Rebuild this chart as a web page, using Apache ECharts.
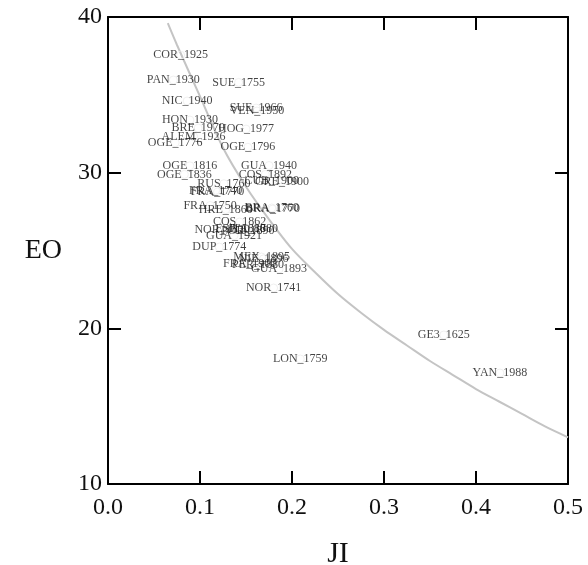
<!DOCTYPE html>
<html>
<head>
<meta charset="utf-8">
<script src="https://cdn.jsdelivr.net/npm/echarts@6/dist/echarts.min.js"></script>
<style>
  html, body { margin: 0; padding: 0; background: #fff; }
  #chart { width: 588px; height: 565px; }
</style>
</head>
<body>
<div id="chart"></div>
<script>
// labelled points (JI, EO)
const names = ['COR_1925', 'PAN_1930', 'SUE_1755', 'NIC_1940', 'SUE_1966', 'VEN_1950', 'HON_1930', 'BRE_1970',
  'HOG_1977', 'ALEM_1926', 'OGE_1776', 'OGE_1796', 'OGE_1816', 'GUA_1940', 'OGE_1836', 'COS_1892',
  'CUB_1900', 'GRE_1900', 'RUS_1760', 'FRA_1740', 'FRA_1770', 'FRA_1750', 'HRE_1860', 'BRA_1760',
  'BRA_1770', 'COS_1862', 'NOR_1830', 'ESP_1880', 'POR_1890', 'ITA_1880', 'GUA_1921', 'DUP_1774',
  'MEX_1895', 'NIE_1896', 'FRA_1900', 'PER_1880', 'GUA_1893', 'NOR_1741', 'LON_1759', 'GE3_1625', 'YAN_1988']
const jiValues = [0.079, 0.071, 0.142, 0.086, 0.161, 0.162, 0.089, 0.098,
  0.150, 0.093, 0.073, 0.152, 0.089, 0.175, 0.083, 0.171,
  0.178, 0.189, 0.126, 0.117, 0.119, 0.111, 0.128, 0.178,
  0.179, 0.143, 0.124, 0.144, 0.152, 0.158, 0.137, 0.121,
  0.167, 0.169, 0.154, 0.163, 0.186, 0.180, 0.209, 0.365, 0.426]
const eoValues = [37.55, 35.95, 35.80, 34.60, 34.15, 33.96, 33.38, 32.86,
  32.80, 32.32, 31.92, 31.63, 30.44, 30.46, 29.89, 29.89,
  29.46, 29.40, 29.29, 28.86, 28.76, 27.89, 27.63, 27.73,
  27.66, 26.83, 26.31, 26.38, 26.25, 26.38, 25.96, 25.22,
  24.58, 24.46, 24.13, 24.10, 23.81, 22.59, 18.03, 19.57, 17.13]

// fitted curve
const curveJI = [0.065, 0.075, 0.100, 0.125, 0.150, 0.175, 0.200, 0.225, 0.250, 0.275,
  0.300, 0.325, 0.350, 0.375, 0.400, 0.425, 0.450, 0.475, 0.500]
const curveEO = [39.6, 38.2, 34.9, 31.6, 29.1, 27.0, 25.1, 23.6, 22.2, 21.0,
  19.9, 18.9, 17.9, 17.0, 16.1, 15.3, 14.5, 13.7, 13.0]

const serif = '"Liberation Serif", "DejaVu Serif", serif'

let chart = echarts.init(document.getElementById('chart'))

const points = names.map((n, i) => ({ name: n, value: [jiValues[i], eoValues[i]] }))
const curve = curveJI.map((x, i) => [x, curveEO[i]])

const frameAxis = {
  axisLine: { show: true, onZero: false, lineStyle: { color: '#000', width: 2 } },
  axisTick: { show: true, inside: true, length: 13, lineStyle: { color: '#000', width: 2 } },
  splitLine: { show: false }
}

chart.setOption({
  backgroundColor: '#fff',
  animation: false,
  grid: { left: 108, right: 20, top: 17, bottom: 81, containLabel: false, outerBoundsMode: 'none' },
  xAxis: [
    Object.assign({
      type: 'value', min: 0, max: 0.5, interval: 0.1, position: 'bottom',
      name: 'JI', nameLocation: 'middle', nameGap: 55,
      nameTextStyle: { fontFamily: serif, fontSize: 30, color: '#111' },
      axisLabel: {
        fontFamily: serif, fontSize: 24, color: '#111', margin: 12,
        formatter: v => v.toFixed(1)
      }
    }, frameAxis),
    Object.assign({
      type: 'value', min: 0, max: 0.5, interval: 0.1, position: 'top',
      axisLabel: { show: false }
    }, frameAxis)
  ],
  yAxis: [
    Object.assign({
      type: 'value', min: 10, max: 40, interval: 10, position: 'left',
      name: 'EO', nameLocation: 'middle', nameGap: 46, nameRotate: 0,
      nameTextStyle: { fontFamily: serif, fontSize: 28, color: '#111' },
      axisLabel: { fontFamily: serif, fontSize: 24, color: '#111', margin: 6 }
    }, frameAxis),
    Object.assign({
      type: 'value', min: 10, max: 40, interval: 10, position: 'right',
      axisLabel: { show: false }
    }, frameAxis)
  ],
  series: [
    {
      type: 'line',
      data: curve,
      smooth: 0.3,
      showSymbol: false,
      z: 1,
      lineStyle: { color: '#c4c4c4', width: 2 }
    },
    {
      type: 'scatter',
      data: points,
      symbol: 'circle',
      symbolSize: 8,
      z: 2,
      itemStyle: { color: 'rgba(0,0,0,0)', borderColor: '#ececec', borderWidth: 1 },
      label: {
        show: true,
        position: 'inside',
        formatter: '{b}',
        fontFamily: serif,
        fontSize: 12,
        color: '#141414'
      },
      emphasis: { disabled: true }
    }
  ]
})
</script>
</body>
</html>
